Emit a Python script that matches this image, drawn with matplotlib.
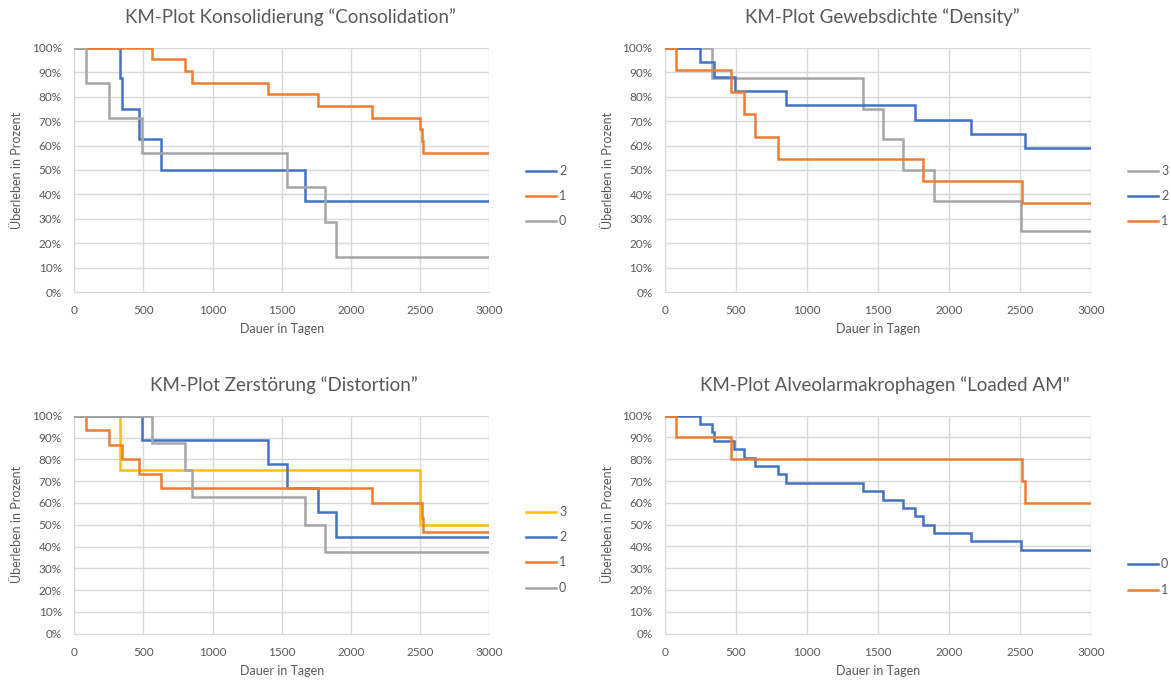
import matplotlib
matplotlib.use("Agg")
import matplotlib.pyplot as plt
from matplotlib.ticker import FuncFormatter, MultipleLocator

plt.rcParams['font.family'] = ['Lato', 'DejaVu Sans']

# ---------------- data (days, survival %) ----------------
# Panel 1: Konsolidierung
p1_labels = ["2", "1", "0"]
p1_t2 = [0, 330, 347, 468, 627, 1669, 3000]
p1_s2 = [100, 87.5, 75.0, 62.5, 50.0, 37.5, 37.5]
p1_t1 = [0, 560, 800, 849, 1404, 1761, 2151, 2501, 2513, 2525, 3000]
p1_s1 = [100, 95.2, 90.5, 85.7, 81.0, 76.2, 71.4, 66.7, 61.9, 57.1, 57.1]
p1_t0 = [0, 84, 253, 492, 1539, 1814, 1893, 3000]
p1_s0 = [100, 85.7, 71.4, 57.1, 42.9, 28.6, 14.3, 14.3]

# Panel 2: Gewebsdichte
p2_labels = ["3", "2", "1"]
p2_t3 = [0, 328, 1395, 1531, 1672, 1893, 2505, 3000]
p2_s3 = [100, 87.5, 75.0, 62.5, 50.0, 37.5, 25.0, 25.0]
p2_t2 = [0, 249, 342, 492, 849, 1759, 2153, 2533, 3000]
p2_s2 = [100, 94.1, 88.2, 82.4, 76.5, 70.6, 64.7, 58.8, 58.8]
p2_t1 = [0, 80, 464, 558, 633, 797, 1815, 2514, 3000]
p2_s1 = [100, 90.9, 81.8, 72.7, 63.6, 54.5, 45.5, 36.4, 36.4]

# Panel 3: Zerstörung
p3_labels = ["3", "2", "1", "0"]
p3_t3 = [0, 330, 2501, 3000]
p3_s3 = [100, 75.0, 50.0, 50.0]
p3_t2 = [0, 492, 1404, 1539, 1761, 1893, 3000]
p3_s2 = [100, 88.9, 77.8, 66.7, 55.6, 44.4, 44.4]
p3_t1 = [0, 84, 253, 347, 468, 627, 2151, 2513, 2525, 3000]
p3_s1 = [100, 93.3, 86.7, 80.0, 73.3, 66.7, 60.0, 53.3, 46.7, 46.7]
p3_t0 = [0, 560, 800, 849, 1669, 1814, 3000]
p3_s0 = [100, 87.5, 75.0, 62.5, 50.0, 37.5, 37.5]

# Panel 4: Alveolarmakrophagen
p4_labels = ["0", "1"]
p4_t0 = [0, 249, 331, 345, 485, 558, 633, 797, 849, 1395, 1531, 1672,
         1759, 1815, 1893, 2153, 2505, 3000]
p4_s0 = [100, 96.2, 92.3, 88.5, 84.6, 80.8, 76.9, 73.1, 69.2, 65.4, 61.5,
         57.7, 53.8, 50.0, 46.2, 42.3, 38.5, 38.5]
p4_t1 = [0, 80, 464, 2514, 2530, 3000]
p4_s1 = [100, 90.0, 80.0, 70.0, 60.0, 60.0]

titles = ["KM-Plot Konsolidierung \u201cConsolidation\u201d",
          "KM-Plot Gewebsdichte \u201cDensity\u201d",
          "KM-Plot Zerst\u00f6rung \u201cDistortion\u201d",
          "KM-Plot Alveolarmakrophagen \u201cLoaded AM\""]
xlabel = "Dauer in Tagen"
ylabel = "\u00dcberleben in Prozent"

BLUE = "#4472C4"
ORANGE = "#ED7D31"
GRAY = "#A5A5A5"
YELLOW = "#FFC000"
TXT = "#595959"
GRID = "#D9D9D9"

W, H = 1171, 681
fig = plt.figure(figsize=(W / 100, H / 100), dpi=100)


def rect(x0, y0, x1, y1):
    return [x0 / W, 1 - y1 / H, (x1 - x0) / W, (y1 - y0) / H]


panels = [
    dict(box=(74.3, 47.7, 489, 292.3), title=titles[0], tx=290, ty=17,
         series=[(p1_t2, p1_s2, BLUE, p1_labels[0]),
                 (p1_t1, p1_s1, ORANGE, p1_labels[1]),
                 (p1_t0, p1_s0, GRAY, p1_labels[2])],
         leg_y=[171, 196, 221], leg_x=526),
    dict(box=(665, 47.7, 1091.3, 292.3), title=titles[1], tx=882, ty=17,
         series=[(p2_t3, p2_s3, GRAY, p2_labels[0]),
                 (p2_t2, p2_s2, BLUE, p2_labels[1]),
                 (p2_t1, p2_s1, ORANGE, p2_labels[2])],
         leg_y=[171, 196, 221], leg_x=1128),
    dict(box=(74.3, 415.7, 489, 633.7), title=titles[2], tx=284, ty=385,
         series=[(p3_t3, p3_s3, YELLOW, p3_labels[0]),
                 (p3_t2, p3_s2, BLUE, p3_labels[1]),
                 (p3_t1, p3_s1, ORANGE, p3_labels[2]),
                 (p3_t0, p3_s0, GRAY, p3_labels[3])],
         leg_y=[512, 537, 562, 588], leg_x=526),
    dict(box=(665, 415.7, 1091.3, 633.5), title=titles[3], tx=885, ty=385,
         series=[(p4_t0, p4_s0, BLUE, p4_labels[0]),
                 (p4_t1, p4_s1, ORANGE, p4_labels[1])],
         leg_y=[564, 590], leg_x=1128),
]

for p in panels:
    x0, y0, x1, y1 = p["box"]
    ax = fig.add_axes(rect(x0, y0, x1, y1))
    for i, (t, s, c, lab) in enumerate(p["series"]):
        ax.step(t, s, where="post", color=c, lw=1.8, zorder=3 + i,
                solid_joinstyle="miter", label=lab)
    ax.set_xlim(0, 3000)
    ax.set_ylim(0, 100)
    ax.xaxis.set_major_locator(MultipleLocator(500))
    ax.yaxis.set_major_locator(MultipleLocator(10))
    ax.yaxis.set_major_formatter(FuncFormatter(lambda v, pos: f"{v:.0f}%"))
    ax.grid(True, color=GRID, lw=1.0, zorder=0)
    ax.set_axisbelow(True)
    for sp in ax.spines.values():
        sp.set_visible(False)
    ax.spines["left"].set_visible(True)
    ax.spines["bottom"].set_visible(True)
    ax.spines["left"].set_color(GRID)
    ax.spines["bottom"].set_color(GRID)
    ax.tick_params(length=0, colors=TXT, labelsize=8.5)
    ax.tick_params(axis="y", pad=9)
    ax.tick_params(axis="x", pad=9.5)
    ax.set_xlabel(xlabel, color=TXT, fontsize=9, labelpad=5)
    ax.set_ylabel(ylabel, color=TXT, fontsize=9, labelpad=6)
    # title
    fig.text(p["tx"] / W, 1 - p["ty"] / H, p["title"], ha="center",
             va="center", fontsize=13.5, color=TXT)
    # legend (manual placement, handles from the plotted lines)
    for (t, s, c, lab), ly in zip(p["series"], p["leg_y"]):
        fig.add_artist(plt.Line2D([p["leg_x"] / W, (p["leg_x"] + 30) / W],
                                  [1 - ly / H, 1 - ly / H], color=c, lw=1.8,
                                  transform=fig.transFigure))
        fig.text((p["leg_x"] + 33) / W, 1 - ly / H, lab, ha="left",
                 va="center", fontsize=9, color=TXT)

fig.savefig("out.png", dpi=100, facecolor="white")
